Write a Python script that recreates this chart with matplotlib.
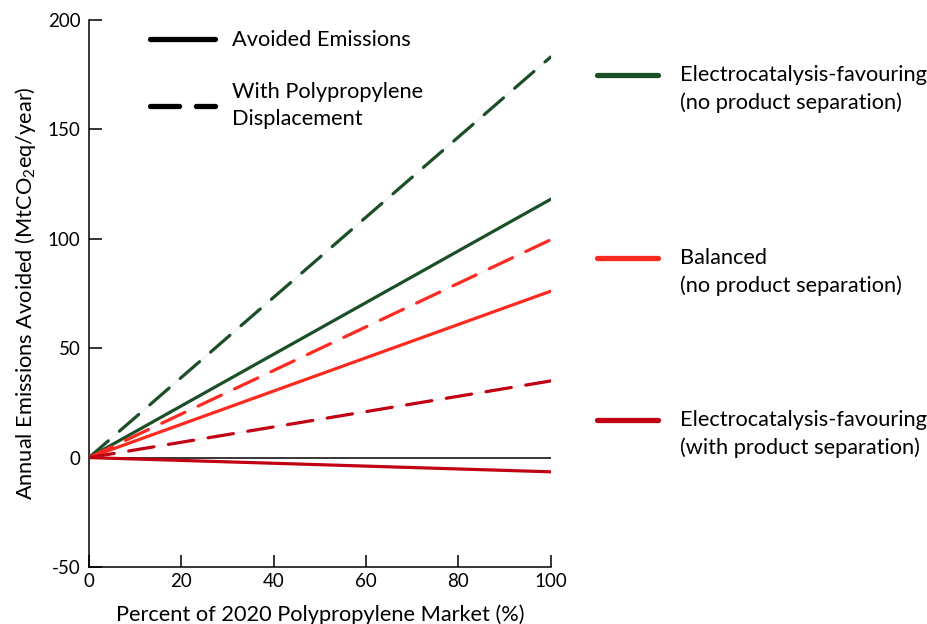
import matplotlib
matplotlib.use("Agg")
import matplotlib.pyplot as plt
from matplotlib.lines import Line2D

plt.rcParams['font.family'] = ['Lato', 'DejaVu Sans']
plt.rcParams['mathtext.fontset'] = 'custom'
plt.rcParams['mathtext.rm'] = 'Lato'
plt.rcParams['mathtext.it'] = 'Lato:italic'
plt.rcParams['axes.unicode_minus'] = False

# Share of the 2020 polypropylene market (%)
market_share = [0, 100]

# Annual avoided emissions (MtCO2eq/year) for each scenario
electro_no_sep = [0, 118]
electro_no_sep_pp = [0, 183]
balanced_no_sep = [0, 76]
balanced_no_sep_pp = [0, 99.5]
electro_with_sep = [0, -6.5]
electro_with_sep_pp = [0, 35]

scenario_labels = [
    "Electrocatalysis-favouring\n(no product separation)",
    "Balanced\n(no product separation)",
    "Electrocatalysis-favouring\n(with product separation)",
]
style_labels = ["Avoided Emissions", "With Polypropylene\nDisplacement"]

x_ticks = [0, 20, 40, 60, 80, 100]
y_ticks = [-50, 0, 50, 100, 150, 200]

GREEN = "#1b4f27"
RED = "#ff2a1f"
DARK_RED = "#c10014"

FS = 15.7        # labels and keys
FS_TICK = 13.5   # tick labels
LW = 2.3
DASH = (0, (8, 4.6))
LINESPACING = 1.45

fig = plt.figure(figsize=(9.27, 6.24), dpi=100)
ax = fig.add_axes([0.096, 0.0913, 0.498, 0.877])

ax.axhline(0, color="black", lw=1.1, zorder=1)

series = [
    (electro_no_sep, electro_no_sep_pp, GREEN),
    (balanced_no_sep, balanced_no_sep_pp, RED),
    (electro_with_sep, electro_with_sep_pp, DARK_RED),
]
for solid, dashed, color in series:
    ax.plot(market_share, dashed, color=color, lw=0.5, alpha=0.12, zorder=2)
    ax.plot(market_share, dashed, color=color, lw=LW, linestyle=DASH,
            dash_capstyle="round", zorder=3)
    ax.plot(market_share, solid, color=color, lw=LW,
            solid_capstyle="round", zorder=3)

ax.set_xlim(0, 100)
ax.set_ylim(-50, 200)
ax.set_xticks(x_ticks)
ax.set_yticks(y_ticks)
ax.tick_params(axis="both", direction="in", length=9, width=1.1,
               labelsize=FS_TICK, color="black")
ax.tick_params(axis="x", pad=4)
ax.tick_params(axis="y", pad=6)
for side in ("top", "right"):
    ax.spines[side].set_visible(False)
for side in ("left", "bottom"):
    ax.spines[side].set_linewidth(1.1)

ax.set_xlabel("Percent of 2020 Polypropylene Market (%)", fontsize=FS, labelpad=11)
ax.set_ylabel(r"Annual Emissions Avoided (MtCO$_2$eq/year)", fontsize=FS, labelpad=7)

# Line-style key inside the plot
style_handles = [
    Line2D([], [], color="black", lw=3.8, solid_capstyle="round"),
    Line2D([], [], color="black", lw=3.8, linestyle=(0, (5.5, 3.2)),
           dash_capstyle="round"),
]
leg_style = ax.legend(style_handles, style_labels, loc="upper left",
                      bbox_to_anchor=(0.132, 0.981), frameon=False,
                      fontsize=FS, handlelength=3.0, handletextpad=0.78,
                      labelspacing=1.45, borderaxespad=0, borderpad=0)
for t in leg_style.get_texts():
    t.set_linespacing(LINESPACING)

# Scenario colour key to the right of the plot
scenario_colors = [GREEN, RED, DARK_RED]
key_y = [75, 258, 420]          # key rows, pixels from the top
W, H = fig.get_size_inches() * fig.dpi
for label, color, yp in zip(scenario_labels, scenario_colors, key_y):
    yf = 1 - yp / H
    fig.add_artist(Line2D([597 / W, 658 / W], [yf, yf], color=color, lw=3.8,
                          solid_capstyle="round", transform=fig.transFigure))
    fig.text(680 / W, yf + 10 / H, label, fontsize=FS, va="top", ha="left",
             linespacing=LINESPACING)

fig.savefig("out.png", dpi=100)
